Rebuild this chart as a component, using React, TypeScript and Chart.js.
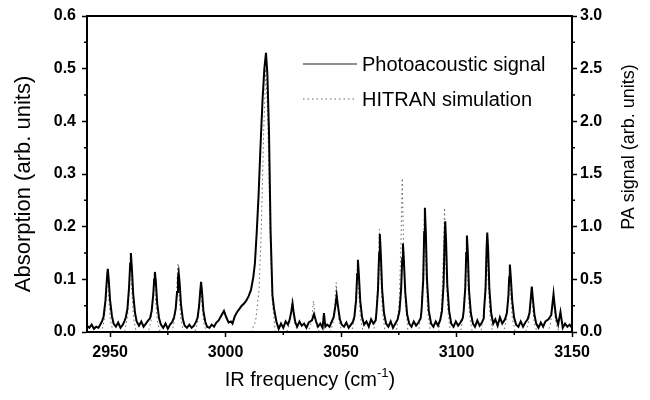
import React, { useEffect, useRef } from 'react';
import { Chart, registerables } from 'chart.js';

Chart.register(...registerables);

// ---- tick values ----
const xMajorTicks = [2950, 3000, 3050, 3100, 3150];
const xMinorTicks = [2975, 3025, 3075, 3125];
const absMajorTicks = [0, 0.1, 0.2, 0.3, 0.4, 0.5, 0.6];
const absMinorTicks = [0.05, 0.15, 0.25, 0.35, 0.45, 0.55];
const paMajorTicks = [0, 0.5, 1.0, 1.5, 2.0, 2.5, 3.0];
const paMinorTicks = [0.25, 0.75, 1.25, 1.75, 2.25, 2.75];

// ---- labels ----
const xTitle = 'IR frequency (cm';
const xTitleSup = '-1';
const leftTitle = 'Absorption (arb. units)';
const rightTitle = 'PA signal (arb. units)';
const seriesNames = ['Photoacoustic signal', 'HITRAN simulation'];

// ---- Photoacoustic signal: [IR frequency (cm-1), PA signal (arb. units)] ----
const paSpectrum: [number, number][] = [
  [2940, 0.06], [2941, 0.04], [2942, 0.07], [2943, 0.03], [2944, 0.05], [2945, 0.04], [2946, 0.08],
  [2946.5, 0.1], [2947.2, 0.15], [2948, 0.3], [2948.6, 0.5], [2949, 0.6], [2949.4, 0.5], [2950, 0.3], [2950.8, 0.15], [2951.5, 0.08],
  [2952.5, 0.05], [2953.5, 0.09], [2954.5, 0.04], [2955.5, 0.07], [2956.2, 0.1],
  [2956.8, 0.14], [2957.5, 0.22], [2958.2, 0.42], [2958.7, 0.65], [2959, 0.75], [2959.4, 0.62], [2960, 0.36], [2960.8, 0.18], [2961.5, 0.1],
  [2962.5, 0.06], [2963.5, 0.1], [2964.5, 0.05], [2965.5, 0.08], [2966.5, 0.11],
  [2967.3, 0.13], [2968, 0.2], [2968.7, 0.36], [2969.1, 0.5], [2969.4, 0.57], [2969.8, 0.48], [2970.4, 0.27], [2971.2, 0.13], [2972, 0.07],
  [2973, 0.04], [2974, 0.08], [2975, 0.03], [2976, 0.07], [2977, 0.1],
  [2977.7, 0.14], [2978.4, 0.22], [2979, 0.38], [2979.4, 0.52], [2979.7, 0.565], [2980.1, 0.47], [2980.7, 0.26], [2981.5, 0.12], [2982.3, 0.06],
  [2983.3, 0.04], [2984.3, 0.07], [2985.3, 0.04], [2986.3, 0.06], [2987.3, 0.1],
  [2987.9, 0.14], [2988.5, 0.24], [2989, 0.38], [2989.4, 0.475], [2989.8, 0.38], [2990.4, 0.2], [2991.2, 0.1], [2992, 0.05],
  [2993, 0.04], [2994, 0.07], [2995, 0.05], [2996, 0.09], [2997, 0.11], [2998, 0.15], [2999.3, 0.2], [3000.3, 0.14], [3001.3, 0.09], [3002.3, 0.1], [3003, 0.08],
  [3004, 0.15], [3005, 0.19], [3006, 0.22], [3007, 0.25], [3008, 0.27], [3009, 0.3], [3010, 0.34], [3011, 0.4], [3012, 0.52], [3012.7, 0.65],
  [3013.5, 0.95], [3014.3, 1.3], [3015.1, 1.75], [3016, 2.2], [3016.8, 2.5], [3017.5, 2.65], [3018.1, 2.45], [3018.8, 1.9], [3019.5, 0.95],
  [3020.3, 0.35], [3021, 0.22], [3022, 0.1], [3023, 0.03],
  [3024, 0.08], [3025, 0.04], [3026, 0.1], [3027, 0.07],
  [3027.8, 0.12], [3028.5, 0.2], [3029, 0.27], [3029.5, 0.18], [3030.2, 0.09],
  [3031, 0.05], [3032, 0.1], [3033, 0.06], [3034, 0.08], [3035, 0.04], [3036, 0.09],
  [3037.4, 0.11], [3038.3, 0.17], [3039.2, 0.1],
  [3040, 0.05], [3041, 0.08], [3042, 0.04], [3042.6, 0.18], [3043.2, 0.05], [3044, 0.07], [3045, 0.05], [3046, 0.1],
  [3046.8, 0.14], [3047.5, 0.24], [3048.1, 0.345], [3048.7, 0.24], [3049.5, 0.12], [3050.3, 0.07],
  [3051.3, 0.05], [3052.3, 0.09], [3053.3, 0.04], [3054.3, 0.07], [3055.2, 0.1],
  [3055.8, 0.15], [3056.5, 0.3], [3057, 0.55], [3057.3, 0.685], [3057.7, 0.55], [3058.3, 0.3], [3059.1, 0.14], [3060, 0.07],
  [3061, 0.1], [3062, 0.05], [3063, 0.12], [3064, 0.08], [3065, 0.11],
  [3065.3, 0.18], [3066, 0.4], [3066.5, 0.75], [3066.8, 0.93], [3067.2, 0.75], [3067.8, 0.4], [3068.6, 0.18], [3069.5, 0.08],
  [3070.5, 0.05], [3071.5, 0.1], [3072.5, 0.04], [3073.5, 0.08], [3074.5, 0.12],
  [3075.3, 0.2], [3076, 0.4], [3076.5, 0.7], [3076.8, 0.84], [3077.2, 0.68], [3077.8, 0.38], [3078.6, 0.17], [3079.5, 0.08],
  [3080.5, 0.05], [3081.5, 0.1], [3082.5, 0.06], [3083.5, 0.09], [3084.5, 0.13],
  [3084.9, 0.22], [3085.6, 0.5], [3086, 0.95], [3086.3, 1.18], [3086.7, 0.95], [3087.2, 0.5], [3088, 0.2], [3089, 0.08],
  [3090, 0.05], [3091, 0.1], [3092, 0.06], [3093, 0.12],
  [3093.7, 0.2], [3094.4, 0.45], [3094.8, 0.85], [3095.1, 1.05], [3095.5, 0.85], [3096, 0.45], [3096.8, 0.2], [3097.7, 0.08],
  [3098.7, 0.05], [3099.7, 0.1], [3100.7, 0.06], [3101.7, 0.09], [3102.7, 0.13],
  [3103.1, 0.2], [3103.8, 0.42], [3104.2, 0.75], [3104.5, 0.915], [3104.9, 0.75], [3105.4, 0.4], [3106.2, 0.18], [3107.1, 0.08],
  [3108, 0.05], [3109, 0.11], [3110, 0.06], [3111, 0.09], [3111.8, 0.13],
  [3111.9, 0.2], [3112.6, 0.42], [3113, 0.78], [3113.3, 0.945], [3113.7, 0.78], [3114.2, 0.42], [3115, 0.18], [3115.9, 0.08],
  [3116.8, 0.12], [3117.8, 0.06], [3118.8, 0.14], [3119.8, 0.08], [3121, 0.12],
  [3121.8, 0.18], [3122.5, 0.35], [3122.8, 0.52], [3123.1, 0.64], [3123.5, 0.52], [3124.1, 0.3], [3124.9, 0.14], [3125.8, 0.07],
  [3126.8, 0.05], [3127.8, 0.1], [3128.8, 0.05], [3129.8, 0.09], [3130.8, 0.12],
  [3131.6, 0.18], [3132.2, 0.33], [3132.6, 0.43], [3133, 0.33], [3133.7, 0.17], [3134.5, 0.08],
  [3135.5, 0.04], [3136.5, 0.09], [3137.5, 0.05], [3138.5, 0.1], [3139.8, 0.12],
  [3141, 0.16], [3141.6, 0.28], [3142, 0.36], [3142.4, 0.27], [3143.1, 0.14], [3144, 0.07],
  [3145, 0.19], [3146, 0.04], [3147, 0.08], [3148, 0.05], [3149, 0.07], [3150, 0.04],
];

// ---- HITRAN simulation: [IR frequency (cm-1), absorption (arb. units)] ----
const hitranSpectrum: [number, number][] = [
  [2940, 0],
  [2946.3, 0], [2947.5, 0.023], [2948.2, 0.063], [2948.8, 0.115], [2949.4, 0.063], [2950.1, 0.023], [2951.3, 0],
  [2956.3, 0], [2957.5, 0.028], [2958.2, 0.077], [2958.8, 0.14], [2959.4, 0.077], [2960.1, 0.028], [2961.3, 0],
  [2966.6, 0], [2967.8, 0.022], [2968.5, 0.06], [2969.1, 0.11], [2969.7, 0.06], [2970.4, 0.022], [2971.6, 0],
  [2976.8, 0], [2978, 0.026], [2978.7, 0.07], [2979.3, 0.128], [2979.9, 0.07], [2980.6, 0.026], [2981.8, 0],
  [2986.7, 0], [2987.9, 0.018], [2988.6, 0.05], [2989.2, 0.09], [2989.8, 0.05], [2990.5, 0.018], [2991.7, 0],
  [3011, 0], [3013, 0.02], [3014.5, 0.08], [3015.5, 0.2], [3016.5, 0.38], [3017.4, 0.5], [3018.3, 0.4], [3019.2, 0.2], [3020.2, 0.06], [3021.5, 0],
  [3026.4, 0], [3027.6, 0.013], [3028.3, 0.035], [3028.9, 0.064], [3029.5, 0.035], [3030.2, 0.013], [3031.4, 0],
  [3035.6, 0], [3036.8, 0.012], [3037.5, 0.032], [3038.1, 0.059], [3038.7, 0.032], [3039.4, 0.012], [3040.6, 0],
  [3045.4, 0], [3046.6, 0.019], [3047.3, 0.052], [3047.9, 0.094], [3048.5, 0.052], [3049.2, 0.019], [3050.4, 0],
  [3054.6, 0], [3055.8, 0.026], [3056.5, 0.072], [3057.1, 0.13], [3057.7, 0.072], [3058.4, 0.026], [3059.6, 0],
  [3064.1, 0], [3065.3, 0.039], [3066, 0.107], [3066.6, 0.195], [3067.2, 0.107], [3067.9, 0.039], [3069.1, 0],
  [3074, 0], [3075.2, 0.058], [3075.9, 0.16], [3076.5, 0.292], [3077.1, 0.16], [3077.8, 0.058], [3079, 0],
  [3083.6, 0], [3084.8, 0.045], [3085.5, 0.124], [3086.1, 0.225], [3086.7, 0.124], [3087.4, 0.045], [3088.6, 0],
  [3092.3, 0], [3093.5, 0.047], [3094.2, 0.13], [3094.8, 0.236], [3095.4, 0.13], [3096.1, 0.047], [3097.3, 0],
  [3101.8, 0], [3103, 0.035], [3103.7, 0.096], [3104.3, 0.175], [3104.9, 0.096], [3105.6, 0.035], [3106.8, 0],
  [3110.6, 0], [3111.8, 0.036], [3112.5, 0.099], [3113.1, 0.18], [3113.7, 0.099], [3114.4, 0.036], [3115.6, 0],
  [3120.4, 0], [3121.6, 0.024], [3122.3, 0.066], [3122.9, 0.12], [3123.5, 0.066], [3124.2, 0.024], [3125.4, 0],
  [3129.9, 0], [3131.1, 0.016], [3131.8, 0.044], [3132.4, 0.08], [3133, 0.044], [3133.7, 0.016], [3134.9, 0],
  [3139.4, 0], [3140.6, 0.013], [3141.3, 0.036], [3141.9, 0.065], [3142.5, 0.036], [3143.2, 0.013], [3144.4, 0],
  [3150, 0],
];

const FONT = '"Liberation Sans", Arial, Helvetica, sans-serif';

const decorPlugin = {
  id: 'decor',
  afterDraw(chart: any) {
    const { ctx, chartArea } = chart;
    const xs = chart.scales.x;
    const yl = chart.scales.y;
    const yr = chart.scales.y2;
    ctx.save();
    // frame
    ctx.strokeStyle = '#000';
    ctx.lineWidth = 2;
    ctx.strokeRect(chartArea.left, chartArea.top, chartArea.right - chartArea.left, chartArea.bottom - chartArea.top);
    // minor ticks
    ctx.lineWidth = 1.5;
    ctx.beginPath();
    xMinorTicks.forEach((v) => {
      const px = xs.getPixelForValue(v);
      ctx.moveTo(px, chartArea.bottom);
      ctx.lineTo(px, chartArea.bottom + 3);
    });
    absMinorTicks.forEach((v) => {
      const py = yl.getPixelForValue(v);
      ctx.moveTo(chartArea.left, py);
      ctx.lineTo(chartArea.left - 3, py);
    });
    paMinorTicks.forEach((v) => {
      const py = yr.getPixelForValue(v);
      ctx.moveTo(chartArea.right, py);
      ctx.lineTo(chartArea.right + 3, py);
    });
    ctx.stroke();

    // axis titles
    ctx.fillStyle = '#000';
    ctx.font = `20px ${FONT}`;
    ctx.textBaseline = 'alphabetic';
    ctx.textAlign = 'left';
    const w1 = ctx.measureText(xTitle).width;
    ctx.font = `13px ${FONT}`;
    const w2 = ctx.measureText(xTitleSup).width;
    ctx.font = `20px ${FONT}`;
    const w3 = ctx.measureText(')').width;
    const x0 = 310 - (w1 + w2 + w3) / 2;
    ctx.fillText(xTitle, x0, 386);
    ctx.font = `13px ${FONT}`;
    ctx.fillText(xTitleSup, x0 + w1, 377);
    ctx.font = `20px ${FONT}`;
    ctx.fillText(')', x0 + w1 + w2, 386);

    ctx.textAlign = 'center';
    ctx.textBaseline = 'middle';
    ctx.save();
    ctx.translate(24, 184);
    ctx.rotate(-Math.PI / 2);
    ctx.font = `22px ${FONT}`;
    ctx.fillText(leftTitle, 0, 0);
    ctx.restore();
    ctx.save();
    ctx.translate(629, 147);
    ctx.rotate(-Math.PI / 2);
    ctx.font = `18px ${FONT}`;
    ctx.fillText(rightTitle, 0, 0);
    ctx.restore();

    // legend
    ctx.textAlign = 'left';
    ctx.font = `20px ${FONT}`;
    ctx.strokeStyle = '#222';
    ctx.lineWidth = 1.2;
    ctx.beginPath();
    ctx.moveTo(303, 64);
    ctx.lineTo(357, 64);
    ctx.stroke();
    ctx.fillText(seriesNames[0], 362, 65);
    ctx.strokeStyle = '#666';
    ctx.setLineDash([1.5, 3]);
    ctx.beginPath();
    ctx.moveTo(303, 99);
    ctx.lineTo(355, 99);
    ctx.stroke();
    ctx.setLineDash([]);
    ctx.fillText(seriesNames[1], 362, 100);
    ctx.restore();
  },
};

export default function App() {
  const canvasRef = useRef<HTMLCanvasElement | null>(null);

  useEffect(() => {
    if (!canvasRef.current) return;
    const tickFont = { family: FONT, size: 16, weight: 'bold' as const };
    const chart = new Chart(canvasRef.current, {
      type: 'line',
      data: {
        datasets: [
          {
            label: seriesNames[0],
            data: paSpectrum.map(([x, y]) => ({ x, y })),
            yAxisID: 'y2',
            borderColor: '#000',
            borderWidth: 2,
            pointRadius: 0,
            tension: 0,
            fill: false,
            order: 1,
          },
          {
            label: seriesNames[1],
            data: hitranSpectrum.map(([x, y]) => ({ x, y })),
            yAxisID: 'y',
            borderColor: '#666',
            borderWidth: 1,
            borderDash: [1.5, 3],
            pointRadius: 0,
            tension: 0,
            fill: false,
            order: 2,
          },
        ],
      },
      options: {
        animation: false,
        responsive: true,
        maintainAspectRatio: false,
        devicePixelRatio: 1,
        layout: { padding: { top: 16, left: 0, right: 0, bottom: 0 } },
        plugins: { legend: { display: false }, tooltip: { enabled: false } },
        scales: {
          x: {
            type: 'linear',
            position: 'bottom',
            min: 2940,
            max: 3150,
            afterBuildTicks: (s: any) => { s.ticks = xMajorTicks.map((value) => ({ value })); },
            afterFit: (s: any) => { s.height = 68; },
            ticks: { font: tickFont, color: '#000', padding: 6, maxRotation: 0, autoSkip: false, callback: (v: any) => String(v) },
            grid: { display: true, drawOnChartArea: false, drawTicks: true, tickLength: 5, tickColor: '#000', tickWidth: 1.5 },
            border: { display: true, color: '#000', width: 2 },
          },
          y: {
            type: 'linear',
            position: 'left',
            min: 0,
            max: 0.6,
            afterBuildTicks: (s: any) => { s.ticks = absMajorTicks.map((value) => ({ value })); },
            afterFit: (s: any) => { s.width = 87; },
            ticks: { font: tickFont, color: '#000', padding: 6, autoSkip: false, callback: (v: any) => Number(v).toFixed(1) },
            grid: { display: true, drawOnChartArea: false, drawTicks: true, tickLength: 5, tickColor: '#000', tickWidth: 1.5 },
            border: { display: true, color: '#000', width: 2 },
          },
          y2: {
            type: 'linear',
            position: 'right',
            min: 0,
            max: 3.0,
            afterBuildTicks: (s: any) => { s.ticks = paMajorTicks.map((value) => ({ value })); },
            afterFit: (s: any) => { s.width = 78; },
            ticks: { font: tickFont, color: '#000', padding: 3, autoSkip: false, callback: (v: any) => Number(v).toFixed(1) },
            grid: { display: true, drawOnChartArea: false, drawTicks: true, tickLength: 5, tickColor: '#000', tickWidth: 1.5 },
            border: { display: true, color: '#000', width: 2 },
          },
        },
      },
      plugins: [decorPlugin],
    });
    return () => chart.destroy();
  }, []);

  return (
    <div style={{ position: 'absolute', left: 0, top: 0, width: 650, height: 400, background: '#fff' }}>
      <canvas ref={canvasRef} />
    </div>
  );
}
